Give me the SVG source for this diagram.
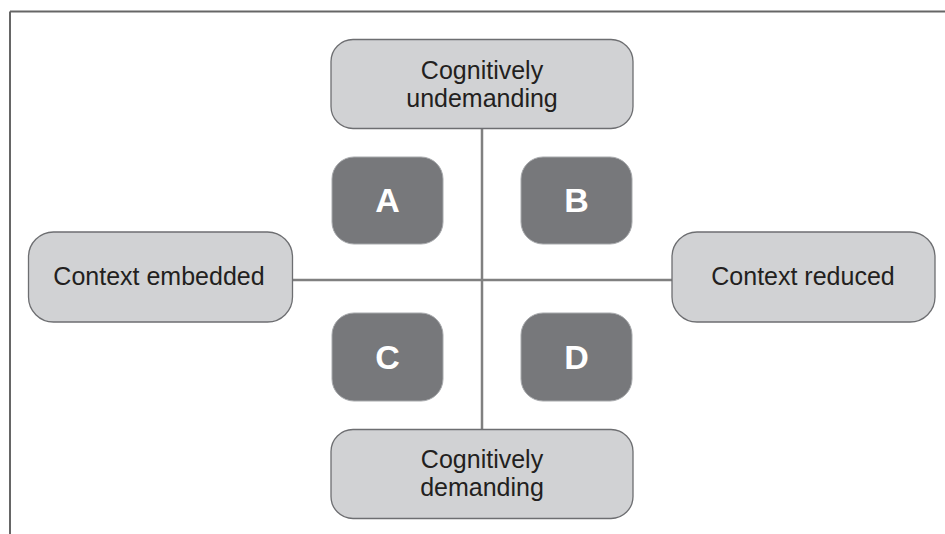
<svg xmlns="http://www.w3.org/2000/svg" width="945" height="534" viewBox="0 0 945 534">
  <style>
    .frame { stroke: #666666; stroke-width: 2; fill: none; }
    .axis { stroke: #808080; stroke-width: 2.5; fill: none; }
    .pole rect { fill: #d1d2d4; stroke: #6d6e71; stroke-width: 1.3; }
    .pole text { font-family: "Liberation Sans", Arial, sans-serif; font-size: 25px; fill: #231f20; text-anchor: middle; }
    .quad rect { fill: #77787b; stroke: #a7a9ac; stroke-width: 1; }
    .quad text { font-family: "Liberation Sans", Arial, sans-serif; font-size: 34px; font-weight: bold; fill: #ffffff; text-anchor: middle; }
  </style>
  <rect width="945" height="534" fill="#ffffff"/>

  <!-- outer frame: top and left rules -->
  <path class="frame" d="M10,11.5 H945 M10,11.5 V534"/>

  <!-- axes -->
  <g id="connectors">
    <line class="axis" x1="482" y1="129" x2="482" y2="429"/>
    <line class="axis" x1="292" y1="280" x2="672" y2="280"/>
  </g>

  <g id="cognitively-undemanding" class="pole">
    <rect x="331" y="39.5" width="302" height="89" rx="22"/>
    <text x="482" y="79">Cognitively</text>
    <text x="482" y="107">undemanding</text>
  </g>

  <g id="cognitively-demanding" class="pole">
    <rect x="331" y="429.5" width="302" height="89" rx="22"/>
    <text x="482" y="468">Cognitively</text>
    <text x="482" y="496">demanding</text>
  </g>

  <g id="context-embedded" class="pole">
    <rect x="28.5" y="232" width="264" height="90" rx="25"/>
    <text x="159" y="285">Context embedded</text>
  </g>

  <g id="context-reduced" class="pole">
    <rect x="672" y="232" width="263" height="90" rx="25"/>
    <text x="803" y="285">Context reduced</text>
  </g>

  <g id="quadrant-a" class="quad">
    <rect x="332" y="157" width="111" height="87" rx="22"/>
    <text x="387.5" y="212">A</text>
  </g>
  <g id="quadrant-b" class="quad">
    <rect x="521" y="157" width="111" height="87" rx="22"/>
    <text x="576.5" y="212">B</text>
  </g>
  <g id="quadrant-c" class="quad">
    <rect x="332" y="313" width="111" height="88" rx="22"/>
    <text x="387.5" y="369">C</text>
  </g>
  <g id="quadrant-d" class="quad">
    <rect x="521" y="313" width="111" height="88" rx="22"/>
    <text x="576.5" y="369">D</text>
  </g>
</svg>
